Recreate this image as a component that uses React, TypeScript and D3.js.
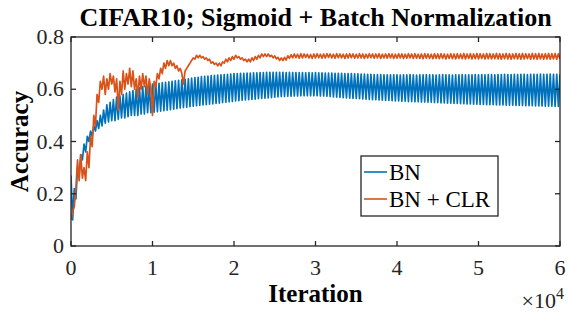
import React from 'react';
import * as d3 from 'd3';

// BN curve: peak of each cycle (every 400 iterations) and the trough between
const bnPeaks = [
  0.27, 0.22, 0.30, 0.35, 0.39, 0.42, 0.44, 0.46, 0.48, 0.50,
  0.52, 0.54, 0.55, 0.56, 0.57, 0.575, 0.58, 0.585, 0.59, 0.595,
  0.60, 0.605, 0.61, 0.612, 0.615, 0.62,
  0.621, 0.623, 0.625, 0.626, 0.628, 0.63, 0.632, 0.634, 0.636, 0.638, 0.64, 0.643,
  0.645, 0.646, 0.648, 0.649, 0.65, 0.652, 0.653, 0.654, 0.655, 0.656, 0.657, 0.658, 0.66,
  0.66, 0.661, 0.661, 0.662, 0.662, 0.663, 0.663, 0.664, 0.664, 0.665, 0.665, 0.665,
  0.665, 0.665, 0.665, 0.664, 0.665, 0.664, 0.664, 0.664, 0.664, 0.663, 0.664, 0.663, 0.664,
  0.663, 0.663, 0.662, 0.662, 0.662, 0.661, 0.661, 0.661, 0.66, 0.66, 0.66, 0.659,
  0.659, 0.658, 0.658, 0.657, 0.657, 0.656, 0.656, 0.656, 0.655, 0.655, 0.655, 0.655, 0.655,
  0.654, 0.655, 0.655, 0.656, 0.655, 0.654, 0.655, 0.655, 0.656, 0.655, 0.655, 0.654, 0.655,
  0.656, 0.655, 0.655, 0.654, 0.655, 0.655, 0.656, 0.655, 0.655, 0.655, 0.656, 0.655,
  0.656, 0.655, 0.656, 0.656, 0.655, 0.656, 0.656, 0.657, 0.656, 0.656, 0.657, 0.656, 0.657,
  0.657, 0.656, 0.657, 0.657, 0.657, 0.658, 0.657, 0.657, 0.658, 0.657, 0.657, 0.657,
];
const bnTroughs = [
  0.10, 0.18, 0.27, 0.33, 0.36, 0.40, 0.42, 0.44, 0.45, 0.46,
  0.47, 0.475, 0.48, 0.48, 0.485, 0.49, 0.49, 0.495, 0.50, 0.50,
  0.50, 0.505, 0.505, 0.51, 0.51,
  0.512, 0.514, 0.516, 0.518, 0.52, 0.522, 0.524, 0.526, 0.528, 0.53, 0.531, 0.533, 0.535,
  0.537, 0.538, 0.54, 0.541, 0.543, 0.544, 0.546, 0.547, 0.549, 0.55, 0.552, 0.553, 0.555,
  0.556, 0.558, 0.559, 0.56, 0.561, 0.562, 0.564, 0.565, 0.566, 0.567, 0.568, 0.57,
  0.571, 0.572, 0.572, 0.573, 0.573, 0.574, 0.574, 0.575, 0.575, 0.575, 0.575, 0.575, 0.575,
  0.574, 0.574, 0.573, 0.572, 0.571, 0.57, 0.569, 0.568, 0.567, 0.566, 0.565, 0.565,
  0.564, 0.563, 0.562, 0.561, 0.56, 0.56, 0.559, 0.558, 0.557, 0.557, 0.556, 0.555, 0.555,
  0.554, 0.554, 0.553, 0.553, 0.552, 0.552, 0.551, 0.551, 0.55, 0.55, 0.549, 0.549, 0.548,
  0.548, 0.547, 0.547, 0.546, 0.546, 0.545, 0.545, 0.544, 0.544, 0.543, 0.543, 0.542,
  0.542, 0.541, 0.541, 0.541, 0.54, 0.54, 0.54, 0.539, 0.539, 0.539, 0.538, 0.538,
  0.538, 0.537, 0.537, 0.537, 0.536, 0.536, 0.536, 0.535, 0.535, 0.535, 0.534, 0.534,
];
// BN + CLR curve, one value every 200 iterations
const clrAcc = [
  0.10, 0.13, 0.15, 0.22, 0.33, 0.25, 0.35, 0.26, 0.30, 0.25,
  0.36, 0.30, 0.42, 0.38, 0.50, 0.46, 0.58, 0.55, 0.63, 0.60,
  0.65, 0.58, 0.64, 0.60, 0.66, 0.62, 0.65, 0.59, 0.64, 0.52,
  0.63, 0.58, 0.67, 0.60, 0.66, 0.62, 0.68, 0.61, 0.67, 0.60,
  0.64, 0.57, 0.65, 0.60, 0.66, 0.61, 0.65, 0.58, 0.64, 0.60,
  0.50, 0.63, 0.61, 0.66, 0.64, 0.68, 0.66, 0.70, 0.68, 0.71,
  0.69, 0.71, 0.69, 0.70, 0.68, 0.69, 0.67, 0.68, 0.66, 0.62,
  0.67, 0.68, 0.69, 0.70, 0.71, 0.72, 0.715, 0.73, 0.72, 0.73,
  0.72, 0.725, 0.715, 0.72, 0.71, 0.715, 0.70, 0.705, 0.695, 0.70,
  0.69, 0.70, 0.69, 0.705, 0.70, 0.715, 0.705, 0.72, 0.71, 0.725,
  0.715, 0.73, 0.72, 0.725, 0.715, 0.72, 0.71, 0.715, 0.705, 0.715,
  0.705, 0.72, 0.71, 0.725, 0.715, 0.73, 0.72, 0.735, 0.725, 0.735,
  0.725, 0.735, 0.725, 0.73, 0.72, 0.728, 0.716, 0.722, 0.71, 0.72,
  0.71, 0.722, 0.712, 0.728, 0.718, 0.732,
  0.72, 0.735, 0.721, 0.734, 0.719, 0.736, 0.72, 0.735, 0.722, 0.734,
  0.72, 0.733, 0.718, 0.735, 0.72, 0.736, 0.721, 0.734, 0.719, 0.735,
  0.72, 0.736, 0.722, 0.735, 0.72, 0.734, 0.719, 0.736, 0.721, 0.735,
  0.72, 0.734, 0.718, 0.735, 0.72, 0.736, 0.721, 0.735, 0.719, 0.734,
  0.72, 0.736, 0.72, 0.735, 0.718, 0.734, 0.72, 0.736, 0.721, 0.735,
  0.719, 0.735, 0.72, 0.736, 0.718, 0.734, 0.72, 0.735, 0.719, 0.736,
  0.72, 0.735, 0.718, 0.734, 0.719, 0.736, 0.72, 0.735, 0.718, 0.734,
  0.719, 0.736, 0.72, 0.735, 0.718, 0.736, 0.719, 0.734, 0.718, 0.735,
  0.717, 0.736, 0.719, 0.735, 0.718, 0.734, 0.717, 0.736, 0.718, 0.735,
  0.717, 0.736, 0.718, 0.735, 0.716, 0.734, 0.718, 0.736, 0.717, 0.735,
  0.716, 0.736, 0.718, 0.735, 0.717, 0.737, 0.716, 0.735, 0.718, 0.736,
  0.716, 0.735, 0.717, 0.737, 0.716, 0.736, 0.718, 0.735, 0.716, 0.737,
  0.717, 0.736, 0.716, 0.735, 0.717, 0.737, 0.716, 0.736, 0.715, 0.735,
  0.717, 0.737, 0.716, 0.736, 0.715, 0.735, 0.717, 0.737, 0.716, 0.736,
  0.715, 0.737, 0.716, 0.736, 0.717, 0.735, 0.715, 0.737, 0.716, 0.736,
  0.715, 0.737, 0.716, 0.735, 0.715, 0.736, 0.716, 0.737, 0.715, 0.736,
  0.716, 0.737, 0.715, 0.736, 0.716,
];
const xTicks = [0, 1, 2, 3, 4, 5, 6];
const yTicks = [0, 0.2, 0.4, 0.6, 0.8];
const seriesNames = ['BN', 'BN + CLR'];
const seriesColors = ['#0072BD', '#D95319'];

const W = 568, H = 312;
const m = { left: 71, right: 8, top: 37, bottom: 66 };
const serifFamily = "Tinos, 'Times New Roman', serif";
const axisColor = '#262626';

export default function App() {
  const x = d3.scaleLinear().domain([0, 60000]).range([m.left, W - m.right]);
  const y = d3.scaleLinear().domain([0, 0.8]).range([H - m.bottom, m.top]);

  const bnData: [number, number][] = [];
  bnPeaks.forEach((v, j) => {
    bnData.push([j * 400, v]);
    if (j < bnTroughs.length) bnData.push([j * 400 + 200, bnTroughs[j]]);
  });
  const clrData: [number, number][] = clrAcc.map((v, k) => [k * 200, v]);

  const line = d3.line<[number, number]>().x(d => x(d[0])).y(d => y(d[1]));

  const x0 = x.range()[0], x1 = x.range()[1];
  const y0 = y.range()[0], y1 = y.range()[1];
  const tick = 5;

  return (
    <svg width={W} height={H} style={{ position: 'absolute', left: 0, top: 0, fontFamily: serifFamily }}>
      <defs>
        <clipPath id="plot">
          <rect x={x0} y={y1} width={x1 - x0} height={y0 - y1} />
        </clipPath>
      </defs>
      <rect width={W} height={H} fill="#fff" />

      <g clipPath="url(#plot)" fill="none" strokeLinejoin="round">
        <path d={line(bnData) || ''} stroke={seriesColors[0]} strokeWidth={1.7} />
        <path d={line(clrData) || ''} stroke={seriesColors[1]} strokeWidth={1.7} />
      </g>

      <g stroke={axisColor} strokeWidth={1.3}>
        <rect x={x0} y={y1} width={x1 - x0} height={y0 - y1} fill="none" />
        {xTicks.map(t => (
          <g key={'x' + t}>
            <line x1={x(t * 10000)} x2={x(t * 10000)} y1={y0} y2={y0 - tick} />
            <line x1={x(t * 10000)} x2={x(t * 10000)} y1={y1} y2={y1 + tick} />
          </g>
        ))}
        {yTicks.map(t => (
          <g key={'y' + t}>
            <line x1={x0} x2={x0 + tick} y1={y(t)} y2={y(t)} />
            <line x1={x1} x2={x1 - tick} y1={y(t)} y2={y(t)} />
          </g>
        ))}
      </g>

      {xTicks.map(t => (
        <text key={'xl' + t} x={x(t * 10000)} y={y0 + 29} textAnchor="middle" fontSize={22} fill={axisColor}
          style={{ fontFamily: serifFamily }}>{t}</text>
      ))}
      {yTicks.map(t => (
        <text key={'yl' + t} x={x0 - 7} y={y(t) + 7} textAnchor="end" fontSize={22} fill={axisColor}
          style={{ fontFamily: serifFamily }}>
          {t === 0 ? '0' : t.toFixed(1)}
        </text>
      ))}
      <text x={W - 4} y={H - 4} textAnchor="end" fontSize={22} fill={axisColor} style={{ fontFamily: serifFamily }}>
        ×10<tspan fontSize={16} dy={-9}>4</tspan>
      </text>

      <rect x={361} y={156} width={137} height={60} fill="#fff" stroke={axisColor} strokeWidth={1.3} />
      {seriesNames.map((name, i) => (
        <g key={name}>
          <line x1={364} x2={387} y1={172 + i * 27} y2={172 + i * 27} stroke={seriesColors[i]} strokeWidth={1.6} />
          <text x={389} y={180 + i * 27} fontSize={23} fill="#000" style={{ fontFamily: serifFamily }}>{name}</text>
        </g>
      ))}

      <text x={(x0 + x1) / 2} y={26} textAnchor="middle" fontSize={26} fontWeight="bold" fill="#000"
        style={{ fontFamily: serifFamily }}>
        CIFAR10; Sigmoid + Batch Normalization
      </text>
      <text x={(x0 + x1) / 2} y={H - 10} textAnchor="middle" fontSize={25} fontWeight="bold" fill="#000"
        style={{ fontFamily: serifFamily }}>
        Iteration
      </text>
      <text transform={`translate(28,${(y0 + y1) / 2}) rotate(-90)`} textAnchor="middle" fontSize={25}
        fontWeight="bold" fill="#000" style={{ fontFamily: serifFamily }}>
        Accuracy
      </text>
    </svg>
  );
}
